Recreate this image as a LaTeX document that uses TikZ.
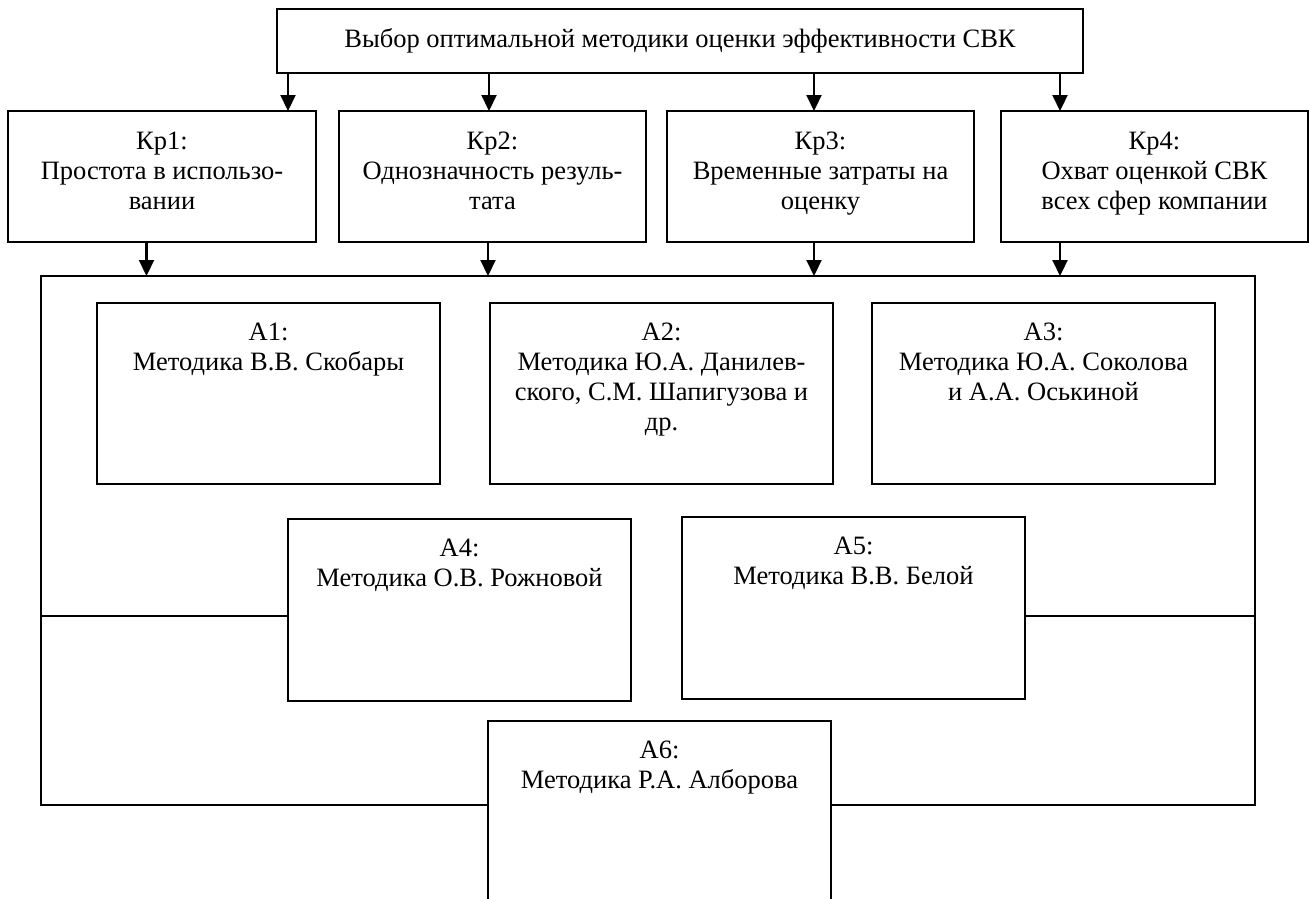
\documentclass[tikz,border=0pt]{standalone}
\usepackage{fontspec}
\setmainfont{Liberation Serif}
\usetikzlibrary{arrows.meta,calc}
\begin{document}
\begin{tikzpicture}[x=1pt,y=-1pt,
  box/.style={draw=black,line width=2.2pt,fill=white,inner sep=0pt,outer sep=0pt,anchor=north west},
  txt/.style={anchor=north,align=center,inner sep=0pt,font=\fontsize{26.5}{30}\selectfont},
  arr/.style={line width=2.2pt,-{Triangle[length=16pt,width=15pt]}},
  conn/.style={line width=2.2pt}]
\useasboundingbox (0,0) rectangle (1309,899);
\clip (0,0) rectangle (1309,899);
% top box
\node[box,minimum width=806pt,minimum height=64pt,font=\fontsize{26.5}{30}\selectfont] (top) at (277,9) {Выбор оптимальной методики оценки эффективности СВК};
% criteria boxes
\node[box,minimum width=308pt,minimum height=131pt] (kr1) at (8,111) {};
\node[box,minimum width=307pt,minimum height=131pt] (kr2) at (339,111) {};
\node[box,minimum width=307pt,minimum height=131pt] (kr3) at (667,111) {};
\node[box,minimum width=307pt,minimum height=131pt] (kr4) at (1001,111) {};
\node[txt] (kr1t) at ($(kr1.north)+(0,21)$) {Кр1:\\Простота в использо-\\вании};
\node[txt] (kr2t) at ($(kr2.north)+(0,21)$) {Кр2:\\Однозначность резуль-\\тата};
\node[txt] (kr3t) at ($(kr3.north)+(0,21)$) {Кр3:\\Временные затраты на\\оценку};
\node[txt] (kr4t) at ($(kr4.north)+(0,21)$) {Кр4:\\Охват оценкой СВК\\всех сфер компании};
% outer frame
\node[box,minimum width=1214pt,minimum height=529pt] (frame) at (41,276) {};
% coordinates for arrows
\coordinate (u1) at (288,0);
\coordinate (u2) at (489,0);
\coordinate (u3) at (814,0);
\coordinate (u4) at (1060,0);
\coordinate (l1) at (146.5,0);
\coordinate (l2) at (488,0);
\coordinate (l3) at (814,0);
\coordinate (l4) at (1060,0);
\draw[arr] (top.south -| u1) -- (kr1.north -| u1);
\draw[arr] (top.south -| u2) -- (kr2.north -| u2);
\draw[arr] (top.south -| u3) -- (kr3.north -| u3);
\draw[arr] (top.south -| u4) -- (kr4.north -| u4);
\draw[arr] (kr1.south -| l1) -- (frame.north -| l1);
\draw[arr] (kr2.south -| l2) -- (frame.north -| l2);
\draw[arr] (kr3.south -| l3) -- (frame.north -| l3);
\draw[arr] (kr4.south -| l4) -- (frame.north -| l4);
% method boxes
\node[box,minimum width=343pt,minimum height=181pt] (a1) at (97,303) {};
\node[box,minimum width=343pt,minimum height=181pt] (a2) at (490,303) {};
\node[box,minimum width=343pt,minimum height=181pt] (a3) at (872,303) {};
\node[box,minimum width=343pt,minimum height=182pt] (a4) at (288,519) {};
\node[box,minimum width=343pt,minimum height=182pt] (a5) at (682,517) {};
\node[box,minimum width=343pt,minimum height=260pt] (a6) at (488,721) {};
\node[txt] (a1t) at ($(a1.north)+(0,20)$) {А1:\\Методика В.В. Скобары};
\node[txt] (a2t) at ($(a2.north)+(0,20)$) {А2:\\Методика Ю.А. Данилев-\\ского, С.М. Шапигузова и\\др.};
\node[txt] (a3t) at ($(a3.north)+(0,20)$) {А3:\\Методика Ю.А. Соколова\\и А.А. Оськиной};
\node[txt] (a4t) at ($(a4.north)+(0,20)$) {А4:\\Методика О.В. Рожновой};
\node[txt] (a5t) at ($(a5.north)+(0,20)$) {А5:\\Методика В.В. Белой};
\node[txt] (a6t) at ($(a6.north)+(0,20)$) {А6:\\Методика Р.А. Алборова};
% side connectors
\coordinate (h) at (0,616);
\draw[conn] (frame.west |- h) -- (a4.west |- h);
\draw[conn] (a5.east |- h) -- (frame.east |- h);
\end{tikzpicture}
\end{document}
